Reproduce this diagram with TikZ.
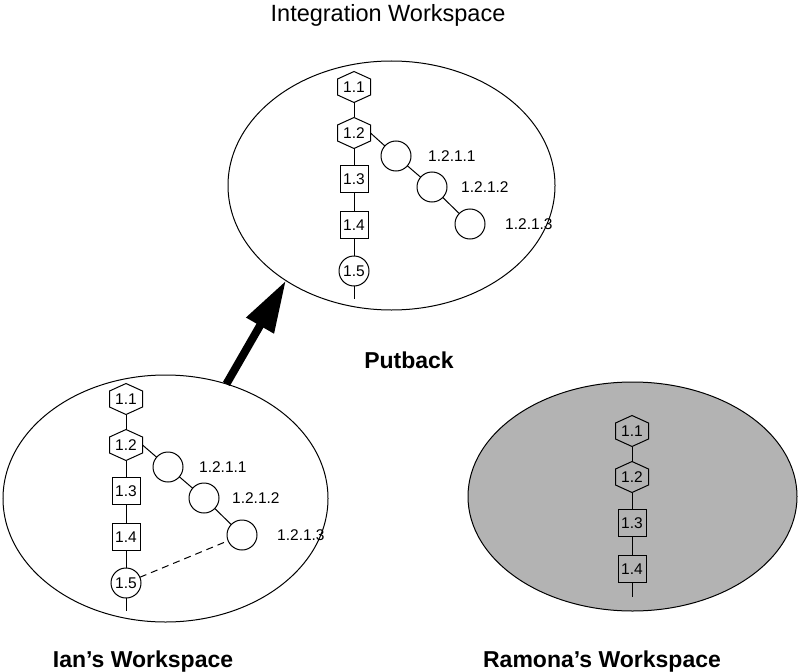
\documentclass[tikz,border=0pt]{standalone}
\usepackage{fontspec}
\setmainfont{Liberation Sans}
\usetikzlibrary{shapes.geometric,arrows.meta}
\definecolor{wsgray}{RGB}{179,179,179}
\tikzset{
  link/.style={line width=1pt},
  wsellipse/.style={ellipse, draw, line width=1pt, inner sep=0pt, outer sep=0pt},
  hexbox/.style={rectangle, minimum width=33pt, minimum height=31pt, inner sep=0pt, outer sep=0pt, font=\fontsize{15.5}{16}\selectfont},
  sqbox/.style={rectangle, draw, line width=1pt, minimum width=28pt, minimum height=27pt, inner sep=0pt, outer sep=0pt, font=\fontsize{15.5}{16}\selectfont},
  circbox/.style={circle, draw, line width=1pt, minimum size=30pt, inner sep=0pt, outer sep=0pt, font=\fontsize{15.5}{16}\selectfont},
  verlabel/.style={anchor=west, inner sep=0pt, font=\fontsize{15.5}{16}\selectfont},
  plaintitle/.style={anchor=base, inner sep=0pt, font=\fontsize{23.5}{28}\selectfont},
  boldtitle/.style={anchor=base, inner sep=0pt, font=\bfseries\fontsize{23}{28}\selectfont},
  dashedlink/.style={line width=1pt, dash pattern=on 7pt off 5pt},
  bigarrow/.style={line width=8pt, -{Triangle[length=52pt,width=30pt]}}
}
\newcommand\drawhex[3]{%
  \node[hexbox] (#1) at (#2) {#3};
  \draw[link] (#1.north) -- ([yshift=-7.5pt]#1.north east) -- ([yshift=7.5pt]#1.south east) -- (#1.south) -- ([yshift=7.5pt]#1.south west) -- ([yshift=-7.5pt]#1.north west) -- cycle;
}
\begin{document}
\begin{tikzpicture}[x=1pt,y=-1pt]
\useasboundingbox (0,0) rectangle (799,671);

% workspaces
\node[wsellipse, minimum width=327pt, minimum height=249pt] (T) at (391.5,185.5) {};
\node[wsellipse, minimum width=325pt, minimum height=247pt] (L) at (165.5,498.5) {};
\node[wsellipse, fill=wsgray, minimum width=329pt, minimum height=229pt] (R) at (632.5,496.5) {};

% titles
\node[plaintitle] (ttitle) at (388,22) {Integration Workspace};
\node[boldtitle] (ptitle) at (409,368) {Putback};
\node[boldtitle] (ltitle) at (143,667) {Ian’s Workspace};
\node[boldtitle] (rtitle) at (602,667) {Ramona’s Workspace};

% ---- Integration workspace
\drawhex{T1}{354,87}{1.1}
\drawhex{T2}{354,133}{1.2}
\node[sqbox] (T3) at (354,179) {1.3};
\node[sqbox] (T4) at (354,225) {1.4};
\node[circbox] (T5) at (354,271) {1.5};
\coordinate (Tend) at (354,299);
\node[circbox] (Tc1) at (396,156) {};
\node[circbox] (Tc2) at (432,187) {};
\node[circbox] (Tc3) at (470,224) {};
\node[verlabel] (Tl1) at (428,156) {1.2.1.1};
\node[verlabel] (Tl2) at (461,187) {1.2.1.2};
\node[verlabel] (Tl3) at (505,224) {1.2.1.3};
\draw[link] (T1.south) -- (T2.north);
\draw[link] (T2.south) -- (T3.north);
\draw[link] (T3.south) -- (T4.north);
\draw[link] (T4.south) -- (T5.north);
\draw[link] (T5.south) -- (Tend);
\draw[link] (T2.east) -- (Tc1);
\draw[link] (Tc1) -- (Tc2);
\draw[link] (Tc2) -- (Tc3);

% ---- Ian's workspace
\drawhex{L1}{126,399}{1.1}
\drawhex{L2}{126,445}{1.2}
\node[sqbox] (L3) at (126,491) {1.3};
\node[sqbox] (L4) at (126,537) {1.4};
\node[circbox] (L5) at (126,583) {1.5};
\coordinate (Lend) at (126,611);
\node[circbox] (Lc1) at (168,467) {};
\node[circbox] (Lc2) at (204,498) {};
\node[circbox] (Lc3) at (242,535) {};
\node[verlabel] (Ll1) at (199,467) {1.2.1.1};
\node[verlabel] (Ll2) at (232,498) {1.2.1.2};
\node[verlabel] (Ll3) at (277,535) {1.2.1.3};
\draw[link] (L1.south) -- (L2.north);
\draw[link] (L2.south) -- (L3.north);
\draw[link] (L3.south) -- (L4.north);
\draw[link] (L4.south) -- (L5.north);
\draw[link] (L5.south) -- (Lend);
\draw[link] (L2.east) -- (Lc1);
\draw[link] (Lc1) -- (Lc2);
\draw[link] (Lc2) -- (Lc3);
\draw[dashedlink] (L5) -- (Lc3);

% ---- Ramona's workspace
\drawhex{R1}{632,431}{1.1}
\drawhex{R2}{632,477}{1.2}
\node[sqbox] (R3) at (632,523) {1.3};
\node[sqbox] (R4) at (632,569) {1.4};
\coordinate (Rend) at (632,597);
\draw[link] (R1.south) -- (R2.north);
\draw[link] (R2.south) -- (R3.north);
\draw[link] (R3.south) -- (R4.north);
\draw[link] (R4.south) -- (Rend);

% ---- putback arrow
\draw[bigarrow] (L.62.6) -- (T.222);
\end{tikzpicture}
\end{document}
